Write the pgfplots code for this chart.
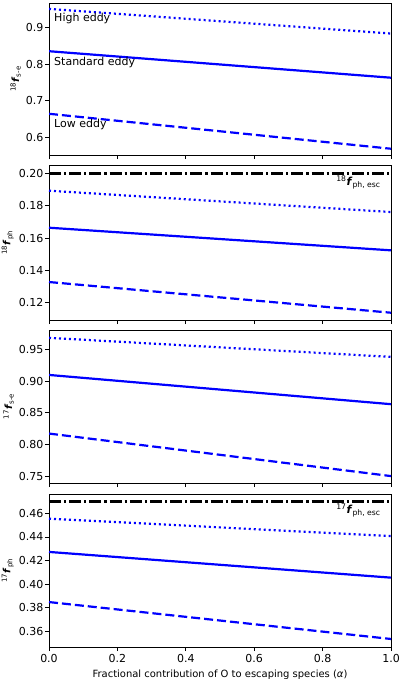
\documentclass[border=0pt]{standalone}
\usepackage{pgfplots}
\pgfplotsset{compat=1.18}
\usepackage{fontspec}
\setmainfont{DejaVu Sans}
\newcommand{\fs}{\fontsize{11bp}{13bp}\selectfont}
\pgfplotsset{
  every axis/.style={
    scale only axis, width=342bp,
    xmin=0, xmax=1,
    xtick={0,0.2,0.4,0.6,0.8,1.0},
    tick align=outside, major tick length=4bp,
    tick style={black, line width=0.8bp},
    axis line style={line width=0.8bp},
    /pgf/number format/assume math mode=true,
    tick label style={font=\fs},
    yticklabel style={inner sep=1.5bp},
    label style={font=\fs},
    ylabel style={font=\fontsize{11.5bp}{13bp}\selectfont, inner sep=0pt, outer sep=0.5bp},
    xlabel style={inner sep=1bp},
    yticklabel style={/pgf/number format/fixed, /pgf/number format/fixed zerofill},
    xticklabel style={/pgf/number format/fixed, /pgf/number format/fixed zerofill, /pgf/number format/precision=1},
    clip=true,
  },
}
\tikzset{
  solidb/.style={blue, line width=2.2bp},
  dotb/.style={blue, line width=2.2bp, dash pattern=on 2bp off 3bp},
  dashb/.style={blue, line width=2.2bp, dash pattern=on 9bp off 4bp},
  dashdotk/.style={black, line width=2.2bp, dash pattern=on 12bp off 3bp on 2.2bp off 3bp},
}
\begin{document}
\begin{tikzpicture}
\path[use as bounding box] (0,0) rectangle (400bp,-679bp);
% Panel 1
\begin{axis}[at={(49bp,-3bp)}, anchor=north west, height=152bp,
  axis lines=box, tick pos=left,
  ymin=0.553, ymax=0.966, ytick={0.6,0.7,0.8,0.9},
  yticklabel style={/pgf/number format/precision=1},
  xticklabels={},
  ylabel={\textsuperscript{18}\textbf{\textit{f}}\textsubscript{s-e}}]
\addplot[dotb] coordinates {(0,0.950) (1,0.883)};
\addplot[solidb] coordinates {(0,0.835) (1,0.763)};
\addplot[dashb] coordinates {(0,0.665) (1,0.570)};
\node[anchor=west, font=\fs] at (axis cs:0.005,0.925) {High eddy};
\node[anchor=west, font=\fs] at (axis cs:0.005,0.804) {Standard eddy};
\node[anchor=west, font=\fs] at (axis cs:0.005,0.635) {Low eddy};
\end{axis}
% Panel 2
\begin{axis}[at={(49bp,-165bp)}, anchor=north west, height=155bp,
  axis lines=box, tick pos=left,
  ymin=0.1093, ymax=0.2052, ytick={0.12,0.14,0.16,0.18,0.20},
  yticklabel style={/pgf/number format/precision=2},
  xticklabels={},
  ylabel={\textsuperscript{18}\textbf{\textit{f}}\textsubscript{ph}}]
\addplot[dashdotk] coordinates {(0,0.200) (1,0.200)};
\addplot[dotb] coordinates {(0,0.1893) (1,0.1761)};
\addplot[solidb] coordinates {(0,0.1664) (1,0.1524)};
\addplot[dashb] coordinates {(0,0.1328) (1,0.1138)};
\node[anchor=north, font=\fs, inner sep=1bp] at (axis cs:0.905,0.1991) {\textsuperscript{18}\textbf{\textit{f}}\textsubscript{ph, esc}};
\end{axis}
% Panel 3
\begin{axis}[at={(49bp,-330bp)}, anchor=north west, height=153bp,
  axis lines=box, tick pos=left,
  ymin=0.7396, ymax=0.9803, ytick={0.75,0.80,0.85,0.90,0.95},
  yticklabel style={/pgf/number format/precision=2},
  xticklabels={},
  ylabel={\textsuperscript{17}\textbf{\textit{f}}\textsubscript{s-e}}]
\addplot[dotb] coordinates {(0,0.968) (1,0.938)};
\addplot[solidb] coordinates {(0,0.9096) (1,0.8636)};
\addplot[dashb] coordinates {(0,0.8174) (1,0.7505)};
\end{axis}
% Panel 4
\begin{axis}[at={(49bp,-494bp)}, anchor=north west, height=153bp,
  axis lines=box, tick pos=left,
  ymin=0.3467, ymax=0.4764, ytick={0.36,0.38,0.40,0.42,0.44,0.46},
  yticklabel style={/pgf/number format/precision=2},
  xlabel={Fractional contribution of O to escaping species (\textit{α})},
  ylabel={\textsuperscript{17}\textbf{\textit{f}}\textsubscript{ph}}]
\addplot[dashdotk] coordinates {(0,0.470) (1,0.470)};
\addplot[dotb] coordinates {(0,0.4555) (1,0.4407)};
\addplot[solidb] coordinates {(0,0.4273) (1,0.4055)};
\addplot[dashb] coordinates {(0,0.3848) (1,0.3535)};
\node[anchor=north, font=\fs, inner sep=1bp] at (axis cs:0.905,0.4691) {\textsuperscript{17}\textbf{\textit{f}}\textsubscript{ph, esc}};
\end{axis}
\end{tikzpicture}
\end{document}
